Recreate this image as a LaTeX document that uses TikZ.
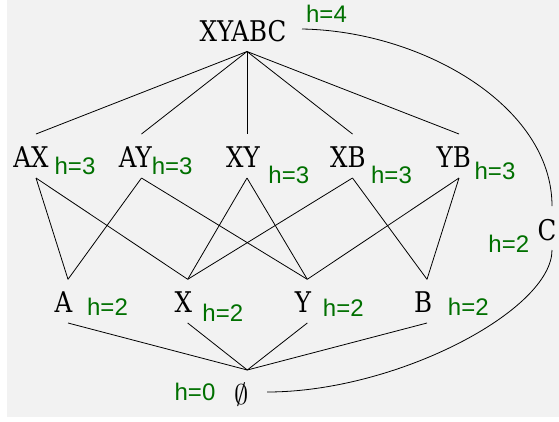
\documentclass[tikz,border=0pt]{standalone}
\usepackage{fontspec}
\newfontfamily\lblfont[FakeStretch=0.86]{DejaVu Serif}
\newfontfamily\hfont{Liberation Sans}
\definecolor{hgreen}{RGB}{0,112,0}
\definecolor{bggray}{RGB}{242,242,242}
\tikzset{
  lbl/.style={font=\lblfont\fontsize{28.5}{30}\selectfont, inner sep=0pt, outer sep=0pt, anchor=base},
  hl/.style={font=\hfont\fontsize{24}{26}\selectfont, text=hgreen, inner sep=0pt, outer sep=0pt, anchor=base},
  edge/.style={draw=black, line width=0.8pt},
}
\begin{document}
\begin{tikzpicture}[x=1pt,y=-1pt]
\useasboundingbox (0,0) rectangle (559,421);
\fill[white] (0,0) rectangle (559,421);
\fill[bggray] (7,0) rectangle (559,417);

% labels
\node[lbl] (XYABC) at (243,41) {XYABC};
\node[hl] (h4) at (326.5,22.5) {h=4};
\node[lbl] (AX) at (31,167) {AX};
\node[hl] (hAX) at (75,174.3) {h=3};
\node[lbl] (AY) at (135.3,167) {AY};
\node[hl] (hAY) at (172.2,174) {h=3};
\node[lbl] (XY) at (243,167.3) {XY};
\node[hl] (hXY) at (288.8,183.3) {h=3};
\node[lbl] (XB) at (347.8,167) {XB};
\node[hl] (hXB) at (391.5,183) {h=3};
\node[lbl] (YB) at (453.8,167.7) {YB};
\node[hl] (hYB) at (495,179.3) {h=3};
\node[lbl] (A) at (63.5,312.7) {A};
\node[hl] (hA) at (107.5,315) {h=2};
\node[lbl] (X) at (183.3,312.7) {X};
\node[hl] (hX) at (222.8,321.7) {h=2};
\node[lbl] (Y) at (303,312.7) {Y};
\node[hl] (hY) at (343.3,316.7) {h=2};
\node[lbl] (B) at (423,312.7) {B};
\node[hl] (hB) at (468.3,315) {h=2};
\node[lbl] (C) at (547,240) {C};
\node[hl] (hC) at (508.8,252.7) {h=2};
\node[inner sep=0pt, outer sep=0pt, anchor=center] (E) at (242,394.5) {\scalebox{2.85}{$\emptyset$}};
\node[hl] (hE) at (195,400.7) {h=0};

% connector end points
\coordinate (XYABC-b) at (247,51.5);
\coordinate (XYABC-r) at (302,29);
\coordinate (AX-t) at (36,134);    \coordinate (AX-b) at (36,178);
\coordinate (AY-t) at (141.5,134); \coordinate (AY-b) at (141.5,178);
\coordinate (XY-t) at (247,134);   \coordinate (XY-b) at (247,178);
\coordinate (XB-t) at (352.5,134); \coordinate (XB-b) at (352.5,178);
\coordinate (YB-t) at (459,134);   \coordinate (YB-b) at (459,178);
\coordinate (A-t) at (68,279.3);   \coordinate (A-b) at (68,323);
\coordinate (X-t) at (187.7,279.3);\coordinate (X-b) at (187.7,323);
\coordinate (Y-t) at (307.3,279.3);\coordinate (Y-b) at (307.3,323);
\coordinate (B-t) at (427,279.3);  \coordinate (B-b) at (427,323);
\coordinate (C-t) at (552,206);    \coordinate (C-b) at (552,250);
\coordinate (E-t) at (247.3,370);  \coordinate (E-r) at (267,392);

% top level
\foreach \n in {AX,AY,XY,XB,YB} \draw[edge] (XYABC-b) -- (\n-t);
% middle level
\draw[edge] (AX-b) -- (A-t);
\draw[edge] (AX-b) -- (X-t);
\draw[edge] (AY-b) -- (A-t);
\draw[edge] (AY-b) -- (Y-t);
\draw[edge] (XY-b) -- (X-t);
\draw[edge] (XY-b) -- (Y-t);
\draw[edge] (XB-b) -- (X-t);
\draw[edge] (XB-b) -- (B-t);
\draw[edge] (YB-b) -- (Y-t);
\draw[edge] (YB-b) -- (B-t);
% bottom level
\foreach \n in {A,X,Y,B} \draw[edge] (\n-b) -- (E-t);
% C branch
\draw[edge] (XYABC-r) .. controls +(120,2) and +(0,-100) .. (C-t);
\draw[edge] (C-b) .. controls +(0,60) and +(130,0) .. (E-r);
\end{tikzpicture}
\end{document}
